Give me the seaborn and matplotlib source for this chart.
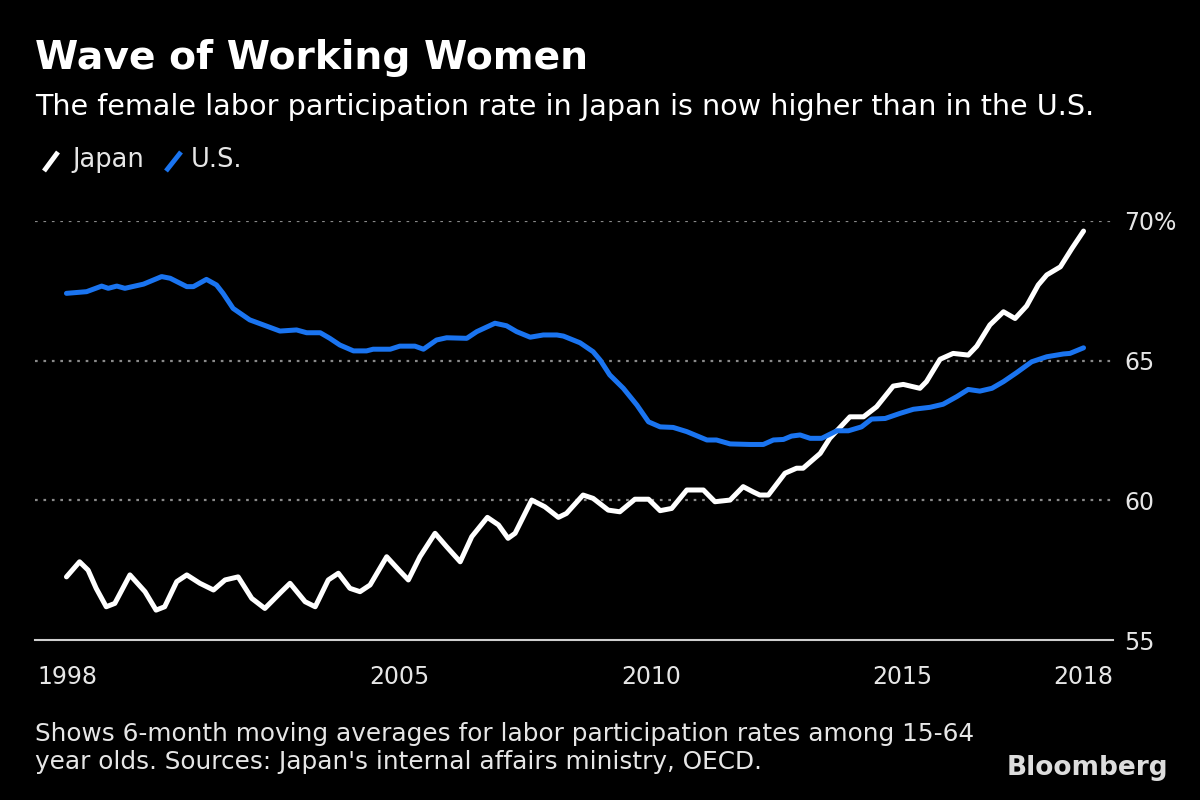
import matplotlib
matplotlib.use("Agg")
import matplotlib.pyplot as plt
from matplotlib.lines import Line2D
import seaborn as sns
import pandas as pd

# ---------------- data ----------------
japan_x = [1998.39, 1998.65, 1998.82, 1998.98, 1999.18, 1999.35, 1999.65, 1999.95, 2000.17, 2000.34,
           2000.58, 2000.78, 2001.04, 2001.31, 2001.54, 2001.80, 2002.07, 2002.33, 2002.66, 2002.83,
           2003.13, 2003.33, 2003.59, 2003.79, 2004.02, 2004.22, 2004.42, 2004.75, 2005.01, 2005.18,
           2005.41, 2005.71, 2005.94, 2006.21, 2006.44, 2006.75, 2006.97, 2007.16, 2007.30, 2007.63,
           2007.89, 2008.16, 2008.32, 2008.65, 2008.85, 2009.15, 2009.38, 2009.68, 2009.95, 2010.18,
           2010.41, 2010.71, 2011.04, 2011.27, 2011.57, 2011.83, 2012.03, 2012.16, 2012.33, 2012.66,
           2012.89, 2013.02, 2013.36, 2013.55, 2013.95, 2014.22, 2014.48, 2014.81, 2015.01, 2015.34,
           2015.47, 2015.74, 2016.00, 2016.30, 2016.47, 2016.73, 2017.00, 2017.23, 2017.46, 2017.69,
           2017.86, 2018.13, 2018.36, 2018.59]
japan_y = [57.26, 57.80, 57.50, 56.85, 56.19, 56.31, 57.33, 56.73, 56.07, 56.19,
           57.09, 57.33, 57.03, 56.79, 57.15, 57.26, 56.49, 56.13, 56.73, 57.03,
           56.37, 56.19, 57.15, 57.39, 56.85, 56.73, 56.97, 57.98, 57.47, 57.15,
           57.98, 58.82, 58.34, 57.80, 58.70, 59.39, 59.12, 58.64, 58.82, 60.01,
           59.77, 59.39, 59.53, 60.19, 60.07, 59.65, 59.59, 60.04, 60.04, 59.63,
           59.71, 60.37, 60.37, 59.95, 60.01, 60.49, 60.30, 60.19, 60.19, 60.97,
           61.15, 61.15, 61.68, 62.22, 62.99, 62.99, 63.35, 64.09, 64.15, 64.01,
           64.25, 65.05, 65.26, 65.20, 65.52, 66.28, 66.75, 66.51, 66.96, 67.71,
           68.07, 68.36, 69.02, 69.64]

us_x = [1998.39, 1998.79, 1999.09, 1999.22, 1999.39, 1999.55, 1999.92, 2000.28, 2000.45, 2000.78,
        2000.91, 2001.17, 2001.37, 2001.50, 2001.70, 2002.03, 2002.30, 2002.63, 2002.96, 2003.16,
        2003.43, 2003.62, 2003.82, 2004.09, 2004.35, 2004.48, 2004.82, 2005.01, 2005.31, 2005.48,
        2005.74, 2005.94, 2006.34, 2006.54, 2006.90, 2007.13, 2007.33, 2007.60, 2007.86, 2008.13,
        2008.26, 2008.59, 2008.85, 2008.99, 2009.18, 2009.45, 2009.72, 2009.95, 2010.18, 2010.44,
        2010.71, 2011.11, 2011.30, 2011.57, 2011.97, 2012.23, 2012.43, 2012.63, 2012.79, 2012.96,
        2013.16, 2013.39, 2013.69, 2013.92, 2014.18, 2014.38, 2014.65, 2014.94, 2015.21, 2015.54,
        2015.80, 2016.07, 2016.30, 2016.53, 2016.77, 2017.00, 2017.26, 2017.56, 2017.86, 2018.19,
        2018.32, 2018.59]
us_y = [67.41, 67.47, 67.67, 67.59, 67.67, 67.59, 67.74, 68.01, 67.95, 67.65,
        67.65, 67.91, 67.71, 67.41, 66.87, 66.46, 66.28, 66.06, 66.10, 66.00,
        66.00, 65.80, 65.56, 65.35, 65.35, 65.41, 65.41, 65.52, 65.52, 65.41,
        65.74, 65.82, 65.80, 66.04, 66.34, 66.25, 66.04, 65.84, 65.92, 65.92,
        65.88, 65.64, 65.32, 65.02, 64.49, 64.01, 63.41, 62.81, 62.63, 62.61,
        62.46, 62.16, 62.16, 62.02, 62.00, 62.00, 62.16, 62.18, 62.30, 62.34,
        62.22, 62.22, 62.49, 62.49, 62.63, 62.91, 62.93, 63.11, 63.26, 63.33,
        63.44, 63.71, 63.97, 63.91, 64.01, 64.25, 64.57, 64.96, 65.14, 65.24,
        65.26, 65.46]

series_names = ["Japan", "U.S."]
x_tick_pos = [1998.41, 2005, 2010, 2015, 2018.59]
x_tick_labels = ["1998", "2005", "2010", "2015", "2018"]
y_ticks = [55, 60, 65, 70]
y_tick_labels = ["55", "60", "65", "70%"]

title = "Wave of Working Women"
subtitle = "The female labor participation rate in Japan is now higher than in the U.S."
footnote = ("Shows 6-month moving averages for labor participation rates among 15-64\n"
            "year olds. Sources: Japan's internal affairs ministry, OECD.")

# ---------------- styling ----------------
BG = "#000000"
WHITE = "#ffffff"
BLUE = "#1a74f0"
GRID = "#8a8a8a"
TXT = "#e6e6e6"

sns.set_theme(style="dark")
plt.rcParams.update({
    "figure.facecolor": BG,
    "axes.facecolor": BG,
    "savefig.facecolor": BG,
})
plt.rcParams["font.family"] = ["DejaVu Sans"]

df = pd.concat([
    pd.DataFrame({"year": japan_x, "rate": japan_y, "country": series_names[0]}),
    pd.DataFrame({"year": us_x, "rate": us_y, "country": series_names[1]}),
], ignore_index=True)

fig = plt.figure(figsize=(12, 8), dpi=100)
ax = fig.add_axes([35 / 1200, 0.2, (1113 - 35) / 1200, (640 - 221) / 800])

sns.lineplot(data=df, x="year", y="rate", hue="country",
             palette={series_names[0]: WHITE, series_names[1]: BLUE},
             linewidth=3.6, ax=ax, legend=False, sort=False, estimator=None)

ax.set_xlim(1997.765, 2019.175)
ax.set_ylim(55, 70)

# grid lines
for v in y_ticks[1:]:
    ax.axhline(v, color=GRID, lw=1.6, ls=(0, (1.2, 2.6)), zorder=0)

for s in ["top", "left", "right"]:
    ax.spines[s].set_visible(False)
ax.spines["bottom"].set_color("#cfcfcf")
ax.spines["bottom"].set_linewidth(1.5)
ax.grid(False)

ax.set_xticks(x_tick_pos)
ax.set_xticklabels(x_tick_labels)
ax.tick_params(axis="x", colors="#cfcfcf", length=12, width=1.5, direction="out",
               labelsize=17, labelcolor=TXT, pad=6)
ax.yaxis.tick_right()
ax.set_yticks(y_ticks)
ax.set_yticklabels(y_tick_labels)
ax.tick_params(axis="y", length=0, labelsize=17, labelcolor=TXT, pad=8)
ax.set_xlabel("")
ax.set_ylabel("")

# titles
fig.text(35 / 1200, 1 - 58 / 800, title, color=WHITE, fontsize=28.3, fontweight="bold",
         va="center", ha="left")
fig.text(35 / 1200, 1 - 107 / 800, subtitle, color=WHITE, fontsize=20.6,
         va="center", ha="left")

# legend (slash icons + labels)
fig.add_artist(Line2D([44 / 1200, 58 / 1200], [1 - 171 / 800, 1 - 152 / 800],
                      color=WHITE, lw=3.5, transform=fig.transFigure, solid_capstyle="butt"))
fig.text(72 / 1200, 1 - 160 / 800, series_names[0], color=TXT, fontsize=18.5, va="center", ha="left")
fig.add_artist(Line2D([166 / 1200, 181 / 1200], [1 - 171 / 800, 1 - 152 / 800],
                      color=BLUE, lw=3.5, transform=fig.transFigure, solid_capstyle="butt"))
fig.text(191 / 1200, 1 - 160 / 800, series_names[1], color=TXT, fontsize=18.5, va="center", ha="left")

# footnote and logo
fig.text(35 / 1200, 1 - 748 / 800, footnote, color=TXT, fontsize=17.8, va="center", ha="left",
         linespacing=1.25)
fig.text(1168 / 1200, 1 - 768 / 800, "Bloomberg", color="#dddddd", fontsize=19, fontweight="bold",
         va="center", ha="right")

fig.savefig("out.png", dpi=100, facecolor=BG)
